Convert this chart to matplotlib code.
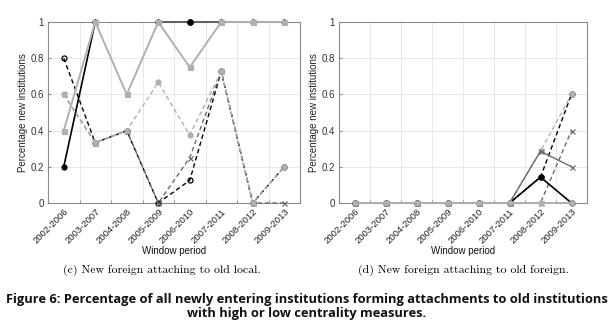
import numpy as np
import matplotlib
matplotlib.use("Agg")
import matplotlib.pyplot as plt

periods = ["2002-2006", "2003-2007", "2004-2008", "2005-2009",
           "2006-2010", "2007-2011", "2008-2012", "2009-2013"]
nan = np.nan

# Panel (c): new foreign attaching to old local
c_black_solid = [0.2, 1, nan, 1, 1, 1, 1, 1]
c_dark_solid = [nan, nan, nan, 1, 1, 1, 1, 1]
c_light_solid = [0.4, 1, 0.6, 1, 0.75, 1, 1, 1]
c_black_dash = [0.8, 0.333, 0.4, 0, 0.125, 0.727, 0, 0.2]
c_dark_dash = [0.6, 0.333, 0.4, 0, 0.25, 0.727, 0, 0]
c_light_dash = [0.6, 0.333, 0.4, 0.667, 0.375, 0.727, 0, 0.2]

# Panel (d): new foreign attaching to old foreign
d_black_solid = [0, 0, 0, 0, 0, 0, 0.143, 0]
d_dark_solid = [0, 0, 0, 0, 0, 0, 0.286, 0.2]
d_light_solid = [0, 0, 0, 0, 0, 0, 0, 0]
d_black_dash = [0, 0, 0, 0, 0, 0, 0.143, 0.6]
d_dark_dash = [0, 0, 0, 0, 0, 0, 0, 0.4]
d_light_dash = [0, 0, 0, 0, 0, 0, 0.286, 0.6]

yticks = [0, 0.2, 0.4, 0.6, 0.8, 1]
yticklabels = ["0", "0.2", "0.4", "0.6", "0.8", "1"]

BLACK = "#000000"
DARK = "#6a6a6a"
LIGHT = "#b0b0b0"

fig = plt.figure(figsize=(6.15, 3.22), dpi=100)
plt.rcParams["font.family"] = ["Liberation Sans", "DejaVu Sans"]

W, H = 615.0, 322.0
ax_c = fig.add_axes([48 / W, (H - 203) / H, 252 / W, 181 / H])
ax_d = fig.add_axes([339 / W, (H - 203) / H, 248 / W, 181 / H])

x = np.arange(1, len(periods) + 1)
dash = (0, (3.2, 2.2))


def draw(ax, series):
    for vals, color, ls, lw, marker, mfc, z in series:
        ax.plot(x, vals, color=color, linestyle=ls, linewidth=lw,
                marker=marker, markersize=3.6, markerfacecolor=mfc,
                markeredgecolor=color, markeredgewidth=0.9, zorder=z,
                clip_on=False)
    ax.set_xlim(0.5, 8.5)
    ax.set_ylim(0, 1)
    ax.set_yticks(yticks)
    ax.set_yticklabels(yticklabels, fontsize=7, color="#333333")
    ax.set_xticks(x)
    ax.set_xticklabels(periods, rotation=45, ha="right", va="top",
                       rotation_mode="anchor", fontsize=6.8, color="#222222")
    ax.set_xticks(x[:-1] + 0.5, minor=True)
    ax.tick_params(axis="x", which="major", length=0, pad=3)
    ax.tick_params(axis="x", which="minor", length=2.5, direction="in",
                   color="#888888")
    ax.tick_params(axis="y", length=2.5, direction="in", color="#888888",
                   pad=3)
    ax.grid(True, which="minor", axis="x", color="#e4e4e4", linewidth=0.6)
    ax.grid(True, which="major", axis="y", color="#e4e4e4", linewidth=0.6)
    ax.set_axisbelow(True)
    for s in ax.spines.values():
        s.set_color("#8a8a8a")
        s.set_linewidth(0.8)
    ax.set_ylabel("Percentage new institutions", fontsize=7,
                  color="#222222", labelpad=2)
    ax.set_xlabel("Window period", fontsize=7, color="#111111",
                  labelpad=0)


draw(ax_c, [
    (c_black_solid, BLACK, "-", 1.2, "o", BLACK, 3.0),
    (c_dark_solid, DARK, "-", 1.3, "None", DARK, 3.05),
    (c_black_dash, BLACK, dash, 1.0, "o", "none", 3.1),
    (c_dark_dash, DARK, dash, 1.0, "x", DARK, 3.15),
    (c_light_dash, LIGHT, dash, 1.0, "o", LIGHT, 3.2),
    (c_light_solid, LIGHT, "-", 1.4, "s", LIGHT, 3.25),
])
# black marker on the top line only where the light series is not
ax_c.plot(x[4], c_black_solid[4], "o", color=BLACK, markersize=3.8,
          zorder=3.3, clip_on=False)

draw(ax_d, [
    (d_black_dash, BLACK, dash, 1.0, "o", "none", 3.0),
    (d_dark_dash, DARK, dash, 1.0, "x", DARK, 3.05),
    (d_light_dash, LIGHT, dash, 1.0, "o", LIGHT, 3.1),
    (d_black_solid, BLACK, "-", 1.2, "o", BLACK, 3.15),
    (d_dark_solid, DARK, "-", 1.0, "x", DARK, 3.2),
    (d_light_solid, LIGHT, "-", 1.4, "o", LIGHT, 3.25),
])

fig.text(162 / W, 1 - 270 / H, "(c) New foreign attaching to old local.",
         family="cmr10", fontsize=8.5, ha="center", va="center")
fig.text(463 / W, 1 - 270 / H, "(d) New foreign attaching to old foreign.",
         family="cmr10", fontsize=8.5, ha="center", va="center")

cap_kw = dict(family=["Open Sans", "DejaVu Sans"], fontweight="bold",
              fontsize=9.3, ha="center", va="center", color="#111111")
fig.text(307 / W, 1 - 299 / H,
         "Figure 6: Percentage of all newly entering institutions forming "
         "attachments to old institutions", **cap_kw)
fig.text(307 / W, 1 - 314 / H,
         "with high or low centrality measures.", **cap_kw)

fig.savefig("out.png", dpi=100)
